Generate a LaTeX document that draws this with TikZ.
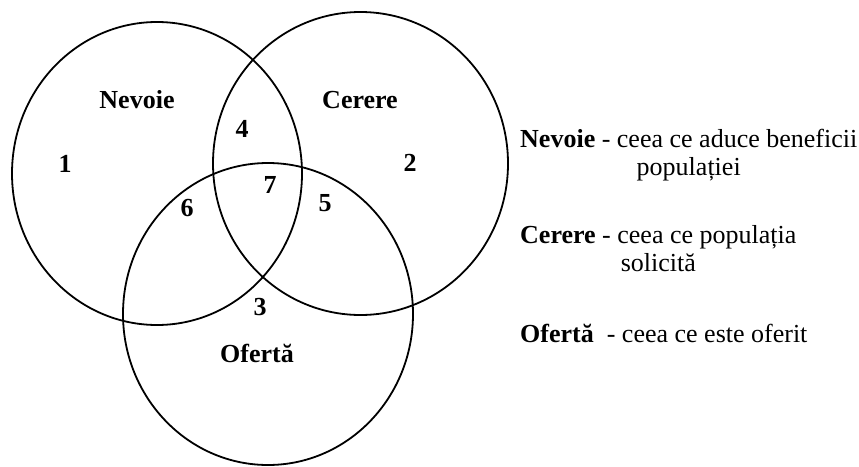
\documentclass[tikz,border=0pt]{standalone}
\usepackage{fontspec}
\setmainfont{Liberation Serif}
\begin{document}
\begin{tikzpicture}[x=1pt,y=-1pt,
  ring/.style={line width=1.8pt, draw=black},
  lbl/.style={font=\fontsize{26}{28}\selectfont\bfseries, inner sep=0pt, anchor=center},
  desc/.style={font=\fontsize{26}{28}\selectfont, inner sep=0pt, anchor=base west},
  descb/.style={font=\fontsize{26}{28}\selectfont, inner sep=0pt, anchor=base}]
\useasboundingbox (0,0) rectangle (859,466);
\fill[white] (0,0) rectangle (859,466);
% circles
\draw[ring] (157,173.5) ellipse [x radius=145, y radius=151.5];
\draw[ring] (360.5,163.5) ellipse [x radius=147.5, y radius=151.5];
\draw[ring] (268,314) ellipse [x radius=145, y radius=151];
% labels inside
\node[lbl] (nev) at (137,100) {Nevoie};
\node[lbl] (cer) at (360,100) {Cerere};
\node[lbl] (of) at (257,353) {Ofertă};
\node[lbl] (r1) at (65,164) {1};
\node[lbl] (r2) at (410,163) {2};
\node[lbl] (r3) at (260,307) {3};
\node[lbl] (r4) at (242,129) {4};
\node[lbl] (r5) at (325,203) {5};
\node[lbl] (r6) at (187,208) {6};
\node[lbl] (r7) at (270,185) {7};
% legend
\node[desc] (d1) at (520,147) {\textbf{Nevoie} - ceea ce aduce beneficii};
\node[descb] (d1b) at ([yshift=-28pt]d1.base) {populației};
\node[desc] (d2) at (520,243) {\textbf{Cerere} - ceea ce populația};
\node[descb] (d2b) at ([yshift=-28pt]d2.base) {solicită};
\node[desc] (d3) at (520,342) {\textbf{Ofertă} \ - ceea ce este oferit};
\end{tikzpicture}
\end{document}
